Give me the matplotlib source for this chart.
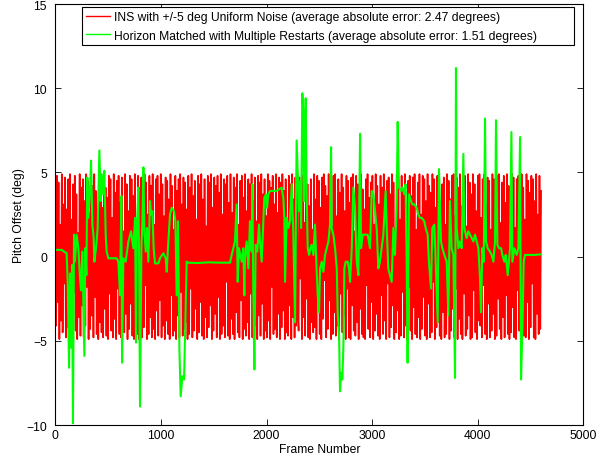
import numpy as np
import matplotlib
matplotlib.use("Agg")
import matplotlib.pyplot as plt

plt.rcParams['font.family'] = ['Liberation Sans', 'DejaVu Sans']

# INS with +/-5 deg uniform noise (estimated sample values, evenly spaced frames 0..4600)
ins_last_frame = 4600
ins_values = [
    3.6, -4.1, 4.8, -2.7, 4.4, -4.9, 1.9, -3.8, 4.9, -4.5, 3.1, -1.6, 4.7, -4.8, 2.8, -4.2, 4.6, -3.3, 4.9, -4.6,
    2.2, -4.9, 4.3, -2.1, 4.8, -4.4, 3.7, -4.9, 1.4, -3.6, 4.9, -4.7, 4.1, -2.9, 4.6, -4.8, 3.3, -4.1, 4.9, -1.8,
    4.5, -4.9, 2.6, -4.3, 4.8, -3.5, 4.2, -4.8, 4.9, -2.4, 3.9, -4.6, 1.7, -4.9, 4.7, -3.9, 4.4, -4.5, 2.9, -4.8,
    4.9, -3.1, 4.1, -4.7, 3.5, -4.9, 4.8, -2.2, 4.6, -4.4, 2.3, -4.8, 4.9, -3.7, 3.8, -4.9, 4.5, -1.9, 4.8, -4.6,
    3.2, -4.8, 4.7, -4.1, 1.5, -4.5, 4.9, -3.4, 4.3, -4.9, 2.7, -4.3, 4.8, -2.8, 4.6, -4.7, 3.6, -4.9, 4.9, -3.9,
    2.1, -4.6, 4.8, -4.9, 4.1, -2.5, 4.7, -4.8, 3.3, -4.2, 4.9, -1.7, 4.4, -4.9, 2.5, -4.6, 4.8, -3.6, 4.2, -4.8,
    4.9, -4.3, 1.9, -4.9, 4.6, -3.2, 4.8, -4.7, 3.7, -2.6, 4.9, -4.8, 4.3, -4.1, 2.4, -4.9, 4.7, -3.8, 4.5, -4.6,
    3.4, -4.9, 4.9, -2.3, 4.2, -4.7, 1.6, -4.4, 4.8, -4.9, 3.9, -3.5, 4.6, -4.8, 4.9, -2.1, 3.1, -4.7, 4.7, -4.3,
    4.4, -3.9, 2.8, -4.9, 4.8, -4.6, 4.1, -1.9, 4.9, -4.8, 3.6, -4.4, 4.5, -3.1, 2.2, -4.9, 4.8, -4.5, 4.3, -2.7,
    4.9, -4.7, 3.4, -4.9, 4.6, -3.6, 1.8, -4.8, 4.8, -4.2, 4.4, -2.9, 4.9, -4.9, 2.9, -4.4, 4.7, -3.4, 4.2, -4.8,
    4.8, -2.4, 3.8, -4.9, 4.9, -4.6, 2.5, -4.1, 4.6, -4.8, 4.3, -1.5, 4.8, -4.7, 3.2, -4.9, 4.9, -3.7, 2.6, -4.6,
    4.7, -4.9, 4.1, -3.3, 4.9, -4.5, 1.9, -4.8, 4.5, -2.6, 4.8, -4.9, 3.5, -4.3, 4.9, -4.7, 2.7, -3.9, 4.6, -4.9,
    4.3, -2.2, 4.9, -4.8, 3.3, -4.6, 4.7, -4.1, 2.1, -4.9, 4.8, -3.5, 4.4, -4.7, 4.9, -2.8, 3.7, -4.9, 4.6, -4.4,
    2.4, -4.8, 4.9, -3.8, 4.5, -4.9, 4.1, -1.8, 4.8, -4.6, 3.1, -4.3, 4.9, -4.8, 2.6, -3.4, 4.7, -4.9, 4.4, -4.2,
    4.9, -3.2, 3.9, -4.9, 4.6, -4.5, 1.7, -4.7, 4.8, -2.9, 4.3, -4.9, 4.9, -3.6, 3.4, -4.8, 4.7, -4.1, 4.8, -3.5,
    -4.4, 4.7, -1.3, 3.9, -4.9, 4.8, -3.6, 2.0, -4.7, 4.9, -2.5, 4.3, -4.8, 3.0, -4.9, 4.6, -3.9, 1.6, -4.5, 4.9,
    -4.2, 3.4, -4.9, 4.8, -2.0, 4.5, -4.6, 2.9, -4.9, 4.7, -3.7, 4.9, -1.4, 4.2, -4.8, 3.6, -4.3, 4.9, -2.6, 4.4,
    -4.9, 1.8, -4.6, 4.8, -3.3, 4.9, -4.7, 2.4, -4.1, 4.6, -4.9, 3.8, -2.2, 4.9, -4.5, 4.1, -3.5, 2.7, -4.9, 4.8,
    -1.9, 4.5, -4.8, 3.2, -4.9, 4.7, -2.9, 4.9, -4.4, 1.5, -4.7, 4.8, -3.9, 4.3, -4.9, 2.3, -3.1, 4.9, -4.6, 4.0,
    -4.8, 2.8, -4.9, 4.6, -1.7, 4.9, -4.3, 3.5, -4.8, 4.4, -2.7, 4.8, -4.9, 1.9, -4.4, 4.9, -3.4, 4.2, -4.7, 3.1,
    -4.9, 4.8, -2.3, 4.1, -4.6, 4.9, -3.8, 2.6, -4.9, 4.5, -1.6, 4.7, -4.8, 3.7, -4.2, 4.9, -2.9, 4.4, -4.9, 1.7,
    -4.5, 4.9, -3.2, 4.6, -4.9, 2.2, -4.7, 4.8, -2.1, 3.9, -4.8, 4.9, -4.1, 3.0, -4.9, 4.5, -1.8, 4.8, -4.4, 3.6,
    -4.9, 4.7, -3.0, 4.9, -4.6, 1.6, -4.8, 4.4, -3.6, 4.9, -4.9, 2.5, -4.3, 4.8, -2.4, 4.6, -4.7, 3.3, -4.9, 4.9,
    -2.8, 4.2, -4.8, 3.8, -4.5, 4.9, -1.5, 4.6, -4.9, 2.9, -4.2, 4.8, -3.9, 4.9, -4.7, 2.1, -4.9, 4.3, -3.3, 4.7,
    -4.8, 1.9, -4.6, 4.9, -2.6, 4.5, -4.9, 3.4, -4.4, 4.8, -3.1, 4.9, -4.8, 2.4, -1.9, 4.7, -4.9, 4.1, -3.7, 4.9,
    -4.6, 3.0, -4.9, 4.6, -2.2, 4.8, -4.7, 1.8, -4.3, 4.9, -3.5, 4.4, -4.9, 3.7, -4.8, 4.9, -2.0, 4.3, -4.5, 2.7,
    -4.9, 4.8, -3.8, 4.9, -4.1, 2.3, -4.8, 4.6, -1.7, 4.9, -4.6, 3.1, -4.9, 4.7, -2.8, 4.5, -4.8, 1.6, -4.4, 4.9,
    -3.4, 4.6, -4.9, 3.9, -4.7, 4.8, -2.5, 4.9, -4.3, 2.0, -4.9, 4.4, -3.6, 4.8, -4.8, 3.2, -2.3, 4.9, -4.6, 4.2,
    -4.9, 2.6, -4.5, 4.9, -3.0, 4.7, -4.8, 1.7, -4.9, 4.6, -2.0, 4.8, -4.4, 3.5, -4.9, 4.9, -3.7, 4.1, -4.7, 2.2,
    -4.8, 4.9, -2.7, 4.5, -4.9, 3.8, -4.2, 4.8, -1.6, 4.6, -4.8, 3.3, -4.9, 4.9, -3.4, 2.5, -4.6, 4.8, -4.3, 3.9,
]

# Horizon matched with multiple restarts (traced points)
hm_frames = [
    0, 60, 107, 117, 130, 139, 149, 158, 167, 177, 186, 202, 218, 234, 243, 256, 275, 284, 294, 303,
    313, 329, 338, 351, 363, 370, 385, 401, 417, 430, 439, 452, 464, 477, 486, 502, 581, 597, 613, 625,
    632, 644, 666, 692, 717, 739, 755, 770, 786, 764, 777, 793, 802, 815, 824, 834, 843, 856, 868, 881,
    897, 906, 919, 931, 944, 976, 991, 1023, 1045, 1055, 1070, 1086, 1102, 1124, 1137, 1149, 1162, 1175, 1187, 1203,
    1219, 1228, 1244, 1260, 1350, 1450, 1550, 1654, 1670, 1686, 1701, 1717, 1727, 1739, 1765, 1780, 1790, 1796, 1812, 1828,
    1843, 1859, 1866, 1875, 1885, 1897, 1913, 1929, 1938, 1954, 1970, 1979, 1995, 2005, 2017, 2033, 2096, 2143, 2159, 2169,
    2175, 2191, 2207, 2222, 2238, 2254, 2270, 2285, 2308, 2320, 2327, 2339, 2349, 2355, 2365, 2371, 2380, 2390, 2403, 2415,
    2428, 2444, 2459, 2475, 2485, 2497, 2507, 2523, 2538, 2554, 2570, 2586, 2601, 2611, 2617, 2633, 2649, 2665, 2674, 2687,
    2696, 2706, 2718, 2728, 2737, 2750, 2769, 2781, 2791, 2807, 2822, 2838, 2854, 2870, 2886, 2895, 2911, 2933, 2958, 2980,
    2996, 3012, 3028, 3043, 3059, 3074, 3090, 3106, 3128, 3138, 3153, 3169, 3185, 3201, 3216, 3232, 3242, 3254, 3273, 3286,
    3305, 3317, 3327, 3336, 3349, 3368, 3381, 3400, 3422, 3437, 3453, 3469, 3494, 3507, 3526, 3538, 3557, 3570, 3589, 3602,
    3621, 3633, 3652, 3665, 3684, 3706, 3722, 3737, 3753, 3769, 3785, 3794, 3801, 3817, 3832, 3848, 3864, 3873, 3895, 3911,
    3927, 3943, 3959, 3974, 3990, 4006, 4022, 4031, 4044, 4057, 4069, 4079, 4094, 4116, 4132, 4148, 4164, 4173, 4186, 4202,
    4221, 4233, 4252, 4265, 4284, 4306, 4319, 4328, 4347, 4369, 4385, 4401, 4410, 4423, 4435, 4448, 4480, 4543, 4600,
]
hm_values = [
    0.4, 0.4, 0.2, -1.5, -6.6, -1.0, -5.4, -0.5, -9.9, 1.3, -0.3, 1.3, 0.5, -1.3, -2.0, 0.3, -5.9, 0.5, -1.1, 4.7,
    2.3, 4.1, 5.7, 1.9, 1.1, -0.3, 0.5, 1.7, 6.3, 3.3, 4.9, 3.7, 5.1, 1.3, 0.3, -0.1, -0.1, -0.3, -2.3, 3.6,
    -6.3, -0.1, -0.3, 0.9, 1.5, 0.5, 2.3, 1.0, 4.1, -5.1, 2.5, 0.0, -8.9, 0.5, 2.0, 5.3, 1.5, 0.3, 1.7, -0.3,
    3.3, 2.5, 2.7, 0.5, -0.4, -0.4, -0.1, 0.2, -0.1, -0.9, 0.9, 2.5, 2.9, 2.7, 2.1, -2.3, 2.1, -5.5, -8.3, -7.1,
    -7.3, -4.7, -0.3, -0.36, -0.38, -0.34, -0.36, -0.36, 0.1, 0.5, 0.9, 3.1, -1.5, 0.5, -0.3, 0.5, -2.3, -0.1, 0.9, -0.7,
    2.1, 0.3, 4.3, -2.3, -6.7, 0.7, 0.3, 1.9, 0.9, -0.3, 2.1, 3.5, 3.7, 2.9, 3.7, 3.9, 3.9, 4.1, 3.5, 2.3,
    -1.5, 2.3, 1.7, 2.1, 4.3, 1.3, -3.9, 6.9, 2.7, 4.5, 1.7, 9.7, 8.5, 3.3, 6.5, 9.4, 3.7, 0.5, 0.1, 0.5,
    0.7, 0.1, 1.9, -0.9, -2.3, -3.3, -0.7, -0.3, -0.9, 0.1, 0.5, 0.9, 1.9, 6.5, 1.7, 1.3, 0.5, -0.7, -3.3, -4.7,
    -8.0, -6.9, -7.3, -5.3, -0.7, -0.3, -0.3, -0.7, -1.5, 0.5, 4.1, 2.9, -0.3, -1.1, 7.3, 0.5, 1.3, 1.3, 1.3, 0.5,
    3.9, 3.7, 2.7, 1.7, -0.7, -0.3, 0.5, 1.3, 3.9, 1.7, -0.7, -1.1, -1.5, 1.7, 0.1, 2.9, 8.0, 4.1, 3.9, 4.1,
    3.7, 4.3, -0.3, -6.3, 3.7, 3.3, 3.1, 3.1, 2.9, 2.5, 2.3, 2.3, 2.1, 1.7, 1.3, -0.3, -1.9, 1.7, 1.9, -0.3,
    -3.9, 5.2, 0.9, 0.5, 0.1, -0.3, -3.5, 3.3, 0.5, 0.1, -7.2, 11.2, 1.7, 0.5, 0.9, 0.5, 6.1, 1.7, 1.1, 1.5,
    1.3, 1.1, 0.9, 1.3, 0.9, 0.5, -1.3, -3.3, 0.5, -0.3, 8.2, 0.9, 0.5, 0.3, 0.1, -0.3, 0.9, 8.1, 0.7, 0.5,
    0.5, 0.1, -0.3, 0.1, -1.1, 0.5, 7.4, -0.3, 0.5, 0.1, 0.5, 7.1, -7.3, -4.3, -0.3, 0.1, 0.1, 0.1, 0.14,
]

x_ticks = [0, 1000, 2000, 3000, 4000, 5000]
y_ticks = [-10, -5, 0, 5, 10, 15]
label_ins = "INS with +/-5 deg Uniform Noise (average absolute error: 2.47 degrees)"
label_hm = "Horizon Matched with Multiple Restarts (average absolute error: 1.51 degrees)"

# keep traced points in frame order
order = np.argsort(np.array(hm_frames), kind="stable")
hm_f = np.array(hm_frames)[order]
hm_v = np.array(hm_values)[order]
ins_frames = np.linspace(0, ins_last_frame, len(ins_values))

FS = 8.7
fig = plt.figure(figsize=(6.06, 4.60), dpi=100)
ax = fig.add_axes([0.0913, 0.0739, 0.8713, 0.9152])

ax.plot(ins_frames, ins_values, color="#ff0000", linewidth=1.2, label=label_ins)
ax.plot(hm_f, hm_v, color="#00ff00", linewidth=1.5, label=label_hm)

ax.set_xlim(0, 5000)
ax.set_ylim(-10, 15)
ax.set_xticks(x_ticks)
ax.set_yticks(y_ticks)
ax.tick_params(axis="both", direction="in", top=True, right=True, labelsize=FS, length=4, width=0.6)
ax.tick_params(axis="y", pad=6)
ax.tick_params(axis="x", pad=3)
for s in ax.spines.values():
    s.set_linewidth(0.8)
ax.set_xlabel("Frame Number", fontsize=FS, labelpad=1)
ax.set_ylabel("Pitch Offset (deg)", fontsize=FS, labelpad=1)

leg = ax.legend(loc="upper left", bbox_to_anchor=(0.0511, 0.90, 0.9312, 0.0921),
                mode="expand", fontsize=FS, fancybox=False, framealpha=1,
                edgecolor="black", handlelength=2.0, handletextpad=0.35,
                borderaxespad=0.0, borderpad=0.3, labelspacing=0.55)
leg.get_frame().set_linewidth(0.8)
for h in leg.get_lines():
    h.set_linewidth(1.0)

fig.savefig("out.png", dpi=100)
